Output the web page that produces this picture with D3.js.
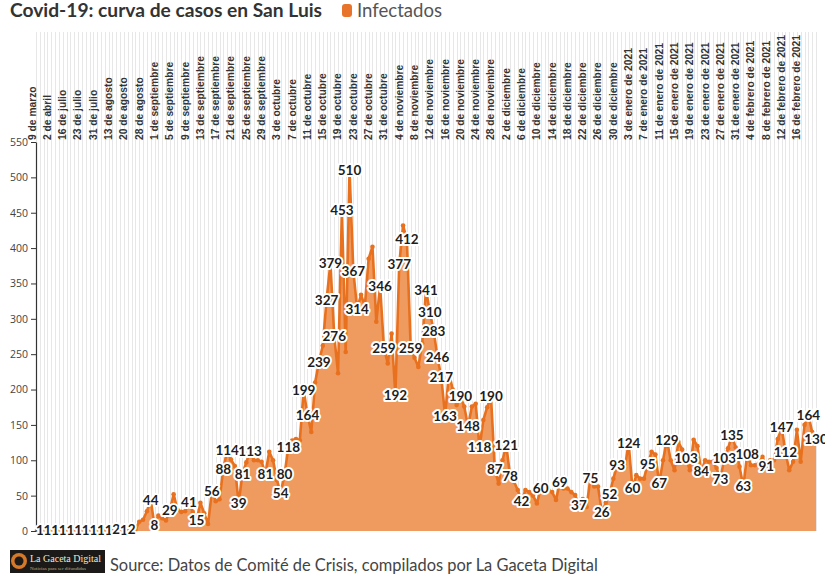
<!DOCTYPE html>
<html>
<head>
<meta charset="utf-8">
<script src="https://cdn.jsdelivr.net/npm/d3@7"></script>
<style>
  html, body { margin: 0; padding: 0; background: #ffffff; }
  svg { display: block; }
</style>
</head>
<body>
<svg id="chart" width="825" height="582"></svg>
<script>
// ---------------- DATA ----------------
const title = "Covid-19: curva de casos en San Luis";
const seriesName = "Infectados";
const sourceText = "Source: Datos de Comité de Crisis, compilados por La Gaceta Digital";

// one value per reported day (category index)
const values = [
  1,1,1,1,1,1,1,1,1,1, 1,1,1,1,1,1,1,1,1,1,
  1,2,1,1,1,2,2,13,16,28,
  44,8,22,18,15,29,52,30,27,28,
  41,27,15,40,25,10,56,42,45,88,
  114,101,92,39,81,97,113,100,100,98,
  81,112,100,72,54,80,118,128,130,128,
  199,164,140,210,239,262,327,379,276,223,
  453,253,510,367,314,334,318,385,402,296,
  346,259,237,279,192,377,432,412,259,245,
  232,265,341,310,283,246,217,163,223,200,
  178,190,176,148,176,180,118,157,175,190,
  87,67,100,121,78,70,58,42,58,55,
  50,39,60,55,58,55,44,69,60,60,
  55,51,37,45,34,75,63,63,26,40,
  52,74,93,98,90,124,60,79,74,74,
  95,112,108,67,100,129,100,86,126,115,
  103,86,129,120,84,100,98,98,89,73,
  103,117,135,118,91,63,108,93,93,95,
  105,91,100,100,130,147,112,86,98,143,
  98,150,164,140,130
];

// tick labels, one every 4 categories
const tickLabels = [
  "9 de marzo","2 de abril","16 de julio","23 de julio","31 de julio","13 de agosto",
  "20 de agosto","28 de agosto","1 de septiembre","5 de septiembre","9 de septiembre",
  "13 de septiembre","17 de septiembre","21 de septiembre","25 de septiembre","29 de septiembre",
  "3 de octubre","7 de octubre","11 de octubre","15 de octubre","19 de octubre","23 de octubre",
  "27 de octubre","31 de octubre","4 de noviembre","8 de noviembre","12 de noviembre",
  "16 de noviembre","20 de noviembre","24 de noviembre","28 de noviembre","2 de diciembre",
  "6 de diciembre","10 de diciembre","14 de diciembre","18 de diciembre","22 de diciembre",
  "26 de diciembre","30 de diciembre","3 de enero de 2021","7 de enero de 2021",
  "11 de enero de 2021","15 de enero de 2021","19 de enero de 2021","23 de enero de 2021",
  "27 de enero de 2021","31 de enero de 2021","4 de febrero de 2021","8 de febrero de 2021",
  "12 de febrero de 2021","16 de febrero de 2021"
];
const tickEvery = 4;

const yTicks = [0,50,100,150,200,250,300,350,400,450,500,550];

// categories whose value is written on the chart
const labelIdx = [
  1,3,5,7,9,11,13,15,17,19,21,23,25,
  30,31,35,40,42,46,49,50,53,54,56,60,64,65,66,
  70,71,74,76,77,78,80,82,83,84,90,91,94,95,97,98,
  102,103,104,105,106,107,111,113,116,119,120,123,124,127,132,137,
  142,145,148,150,152,155,156,160,163,165,170,174,179,180,182,185,186,
  191,195,196,202,204
];

// ---------------- DRAW ----------------
const svg = d3.select("#chart");
const lineColor = "#e8711f";
const areaColor = "#ef9a5e";

const x = d3.scaleLinear().domain([0, values.length - 1]).range([36, 816]);
const y = d3.scaleLinear().domain([0, 550]).range([531, 142]);

function fitText(sel, targetWidth) {
  const node = sel.node();
  const fs = parseFloat(sel.attr("font-size"));
  const w = node.getComputedTextLength();
  if (w > 0) sel.attr("font-size", (fs * targetWidth / w).toFixed(2));
}

// vertical grid lines (one per category)
svg.append("g")
  .selectAll("line")
  .data(values)
  .join("line")
  .attr("x1", (d, i) => Math.round(x(i)) + 0.5)
  .attr("x2", (d, i) => Math.round(x(i)) + 0.5)
  .attr("y1", 32)
  .attr("y2", y(0))
  .attr("stroke", "#e7e7e7")
  .attr("stroke-width", 1);

// area
const area = d3.area()
  .x((d, i) => x(i))
  .y0(y(0))
  .y1(d => y(d));
svg.append("path")
  .datum(values)
  .attr("d", area)
  .attr("fill", areaColor);

// line
const line = d3.line()
  .x((d, i) => x(i))
  .y(d => y(d));
svg.append("path")
  .datum(values)
  .attr("d", line)
  .attr("fill", "none")
  .attr("stroke", lineColor)
  .attr("stroke-width", 2.6)
  .attr("stroke-linejoin", "round")
  .attr("stroke-linecap", "round");

svg.append("g")
  .selectAll("circle")
  .data(values.map((v, i) => ({v, i})).filter(d => d.i >= 26))
  .join("circle")
  .attr("cx", d => x(d.i))
  .attr("cy", d => y(d.v))
  .attr("r", 2.3)
  .attr("fill", lineColor);

// y axis
const yAxis = svg.append("g")
  .attr("transform", `translate(${x(0)},0)`)
  .call(d3.axisLeft(y).tickValues(yTicks).tickSize(5).tickSizeOuter(0).tickPadding(3));
yAxis.select(".domain").attr("stroke", "#333").attr("stroke-width", 1.2);
yAxis.selectAll(".tick line").attr("stroke", "#333");
yAxis.selectAll(".tick text")
  .attr("font-family", "'Open Sans', sans-serif")
  .attr("font-size", 10.5)
  .attr("fill", "#444");

// x tick labels (rotated, reading upward, starting just above the plot)
const xl = svg.append("g");
const tickSel = xl.selectAll("text")
  .data(tickLabels)
  .join("text")
  .attr("transform", (d, k) => `translate(${x(k * tickEvery) - 4},140) rotate(-90)`)
  .attr("dy", "0.35em")
  .attr("text-anchor", "start")
  .attr("font-family", "'Liberation Sans', Arial, sans-serif")
  .attr("font-weight", "bold")
  .attr("font-size", 10)
  .attr("fill", "#333")
  .text(d => d);
{
  const longest = tickSel.filter(d => d === "16 de febrero de 2021");
  const w = longest.node().getComputedTextLength();
  tickSel.attr("font-size", (10 * 105 / w).toFixed(2));
}

// value labels
svg.append("g")
  .selectAll("text")
  .data(labelIdx)
  .join("text")
  .attr("x", i => x(i))
  .attr("y", i => y(values[i]))
  .attr("dy", "0.36em")
  .attr("text-anchor", "middle")
  .attr("font-family", "Lato, 'Open Sans', sans-serif")
  .attr("font-weight", "bold")
  .attr("font-size", 13.5)
  .attr("fill", "#1e1e1e")
  .attr("stroke", "#ffffff")
  .attr("stroke-width", 4)
  .attr("stroke-linejoin", "round")
  .attr("paint-order", "stroke")
  .text(i => values[i]);

// title
const t = svg.append("text")
  .attr("x", 10).attr("y", 17)
  .attr("font-family", "Lato, 'Open Sans', sans-serif")
  .attr("font-weight", "bold")
  .attr("font-size", 18)
  .attr("fill", "#333")
  .text(title);
fitText(t, 312);

// legend
svg.append("rect")
  .attr("x", 342).attr("y", 4).attr("width", 10).attr("height", 13)
  .attr("rx", 3).attr("fill", "#e8732a");
const lg = svg.append("text")
  .attr("x", 357).attr("y", 17)
  .attr("font-family", "Lato, 'Open Sans', sans-serif")
  .attr("font-size", 18)
  .attr("fill", "#555")
  .text(seriesName);
fitText(lg, 85);

// source logo
const logo = svg.append("g");
logo.append("rect").attr("x", 10).attr("y", 550).attr("width", 95).attr("height", 23).attr("fill", "#1b1a18");
logo.append("circle").attr("cx", 19).attr("cy", 561).attr("r", 8).attr("fill", "#d4782a");
logo.append("circle").attr("cx", 19).attr("cy", 561).attr("r", 4.5).attr("fill", "#1b1a18");
logo.append("text").attr("x", 30).attr("y", 562)
  .attr("font-family", "'Liberation Serif', serif").attr("font-size", 10)
  .attr("fill", "#f2e6c8").text("La Gaceta Digital");
logo.append("text").attr("x", 30).attr("y", 570)
  .attr("font-family", "'Liberation Serif', serif").attr("font-size", 5)
  .attr("fill", "#b8a98a").text("Noticias para ser difundidas");

const src = svg.append("text")
  .attr("x", 110).attr("y", 571)
  .attr("font-family", "Lato, 'Open Sans', sans-serif")
  .attr("font-size", 16)
  .attr("fill", "#444")
  .text(sourceText);
fitText(src, 488);
</script>
</body>
</html>
